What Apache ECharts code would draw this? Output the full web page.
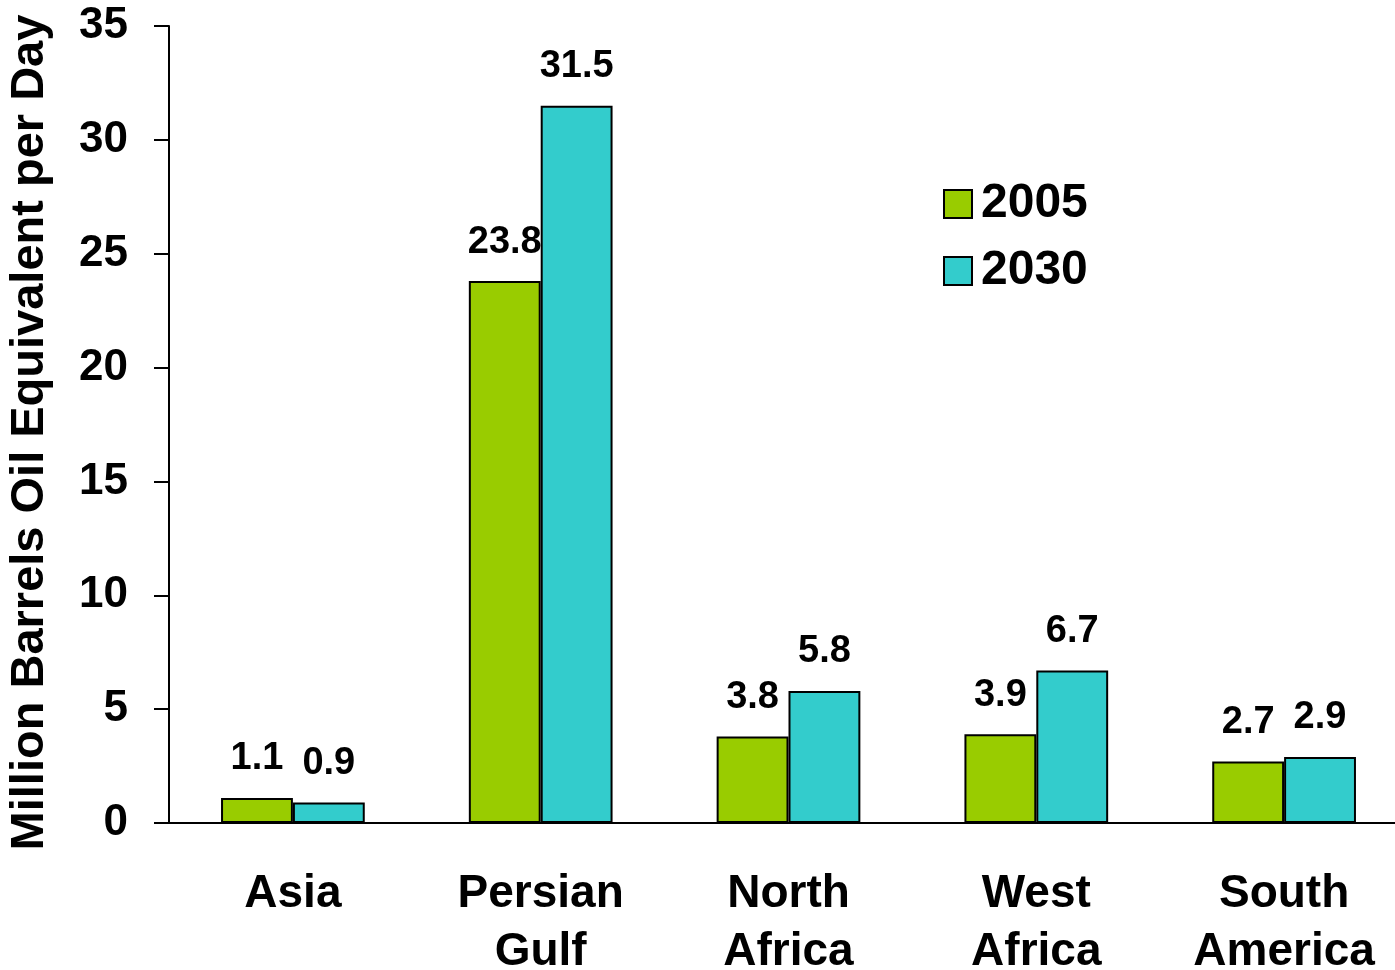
<!DOCTYPE html>
<html>
<head>
<meta charset="utf-8">
<script src="https://cdn.jsdelivr.net/npm/echarts@6/dist/echarts.min.js"></script>
<style>
html,body{margin:0;padding:0;background:#fff;}
#chart{width:1395px;height:970px;}
</style>
</head>
<body>
<div id="chart"></div>
<script>
const categories = ['Asia', 'Persian\nGulf', 'North\nAfrica', 'West\nAfrica', 'South\nAmerica'];
const series2005 = [1.1, 23.8, 3.8, 3.9, 2.7];
const series2030 = [0.9, 31.5, 5.8, 6.7, 2.9];
const seriesNames = ['2005', '2030'];
const yTitle = 'Million Barrels Oil Equivalent per Day';

const FONT = '"Liberation Sans", Arial, sans-serif';
const chart = echarts.init(document.getElementById('chart'), null, {renderer: 'canvas'});

const labelStyle = {
  show: true,
  position: 'top',
  distance: 20,
  fontFamily: FONT,
  fontWeight: 'bold',
  fontSize: 38,
  color: '#000'
};

chart.setOption({
  animation: false,
  backgroundColor: '#fff',
  grid: {left: 169, right: -13, top: 26, bottom: 147, containLabel: false, outerBoundsMode: 'none'},
  legend: {
    orient: 'vertical',
    left: 938,
    top: 175,
    itemWidth: 28,
    itemHeight: 28,
    itemGap: 19,
    icon: 'rect',
    textStyle: {fontFamily: FONT, fontWeight: 'bold', fontSize: 48, color: '#000', padding: [0, 0, 0, 4]},
    data: seriesNames
  },
  xAxis: {
    type: 'category',
    data: categories,
    axisLine: {lineStyle: {color: '#000', width: 2}},
    axisTick: {show: false},
    axisLabel: {
      fontFamily: FONT, fontWeight: 'bold', fontSize: 46, color: '#000',
      lineHeight: 58, margin: 42, interval: 0
    }
  },
  yAxis: {
    type: 'value',
    min: 0, max: 35, interval: 5,
    name: yTitle,
    nameLocation: 'middle',
    nameRotate: 90,
    nameGap: 115,
    nameTextStyle: {fontFamily: FONT, fontWeight: 'bold', fontSize: 47, color: '#000', padding: [0, 16, 0, 0]},
    axisLine: {show: true, lineStyle: {color: '#000', width: 2}},
    axisTick: {show: true, length: 15, lineStyle: {color: '#000', width: 2}},
    splitLine: {show: false},
    axisLabel: {fontFamily: FONT, fontWeight: 'bold', fontSize: 44, color: '#000', margin: 41}
  },
  series: [
    {
      name: seriesNames[0], type: 'bar', data: series2005,
      barWidth: '29%', barGap: '0%',
      itemStyle: {color: '#99CC00', borderColor: '#000', borderWidth: 2},
      label: labelStyle
    },
    {
      name: seriesNames[1], type: 'bar', data: series2030,
      barWidth: '29%', barGap: '0%',
      itemStyle: {color: '#33CCCC', borderColor: '#000', borderWidth: 2},
      label: labelStyle
    }
  ]
});
</script>
</body>
</html>
